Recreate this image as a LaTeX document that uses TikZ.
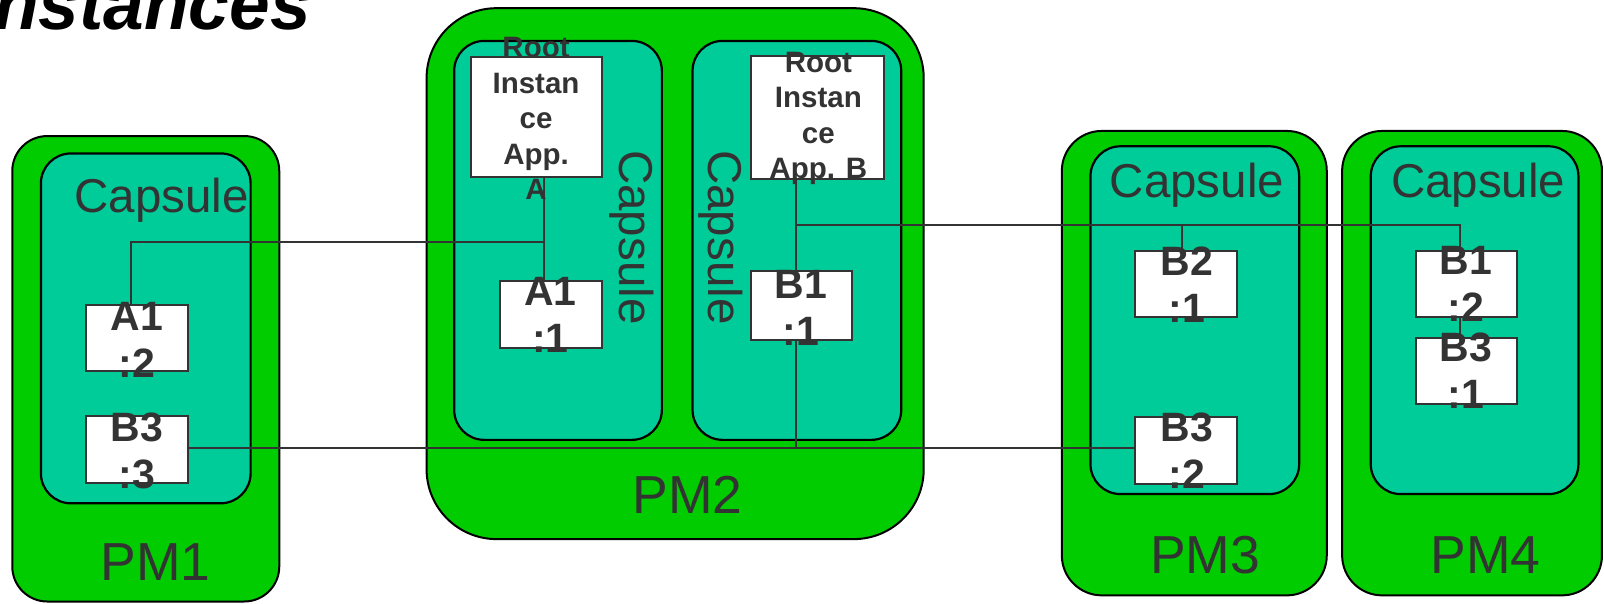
\documentclass[tikz,border=0pt]{standalone}
\usepackage{fontspec}
\setmainfont{Liberation Sans}
\usetikzlibrary{fit}
\definecolor{pmgreen}{RGB}{0,204,0}
\definecolor{capgreen}{RGB}{0,204,153}
\definecolor{ink}{RGB}{51,51,51}
\tikzset{
  pm/.style={draw=black, line width=2pt, fill=pmgreen, inner sep=0pt},
  capsule/.style={draw=black, line width=2.2pt, fill=capgreen, inner sep=0pt, rounded corners=30pt},
  inst/.style={draw=ink, line width=2pt, fill=white, inner sep=0pt},
  insttxt/.style={text=ink, align=center, inner sep=0pt, font=\bfseries\fontsize{41}{47}\selectfont},
  roottxt/.style={text=ink, align=center, inner sep=0pt, font=\bfseries\fontsize{29.5}{35.5}\selectfont},
  captxt/.style={text=ink, inner sep=0pt, font=\fontsize{47.5}{50}\selectfont},
  pmtxt/.style={text=ink, inner sep=0pt, font=\fontsize{53.5}{56}\selectfont},
  conn/.style={draw=ink, line width=2pt}
}
\begin{document}
\begin{tikzpicture}[x=1.02296pt,y=-1.02296pt]
\useasboundingbox (0,0) rectangle (1568,590.4);
\clip (0,0) rectangle (1568,590.4);
% title
\node[anchor=base east, inner sep=0pt, font=\bfseries\itshape\fontsize{73}{80}\selectfont] (title) at (304,29) {Instances};
% PM containers
\node[pm, rounded corners=35pt, fit={(12,133) (273,588)}] (pm1) {};
\node[pm, rounded corners=70pt, fit={(417,8) (903,527)}] (pm2) {};
\node[pm, rounded corners=40pt, fit={(1038,128) (1297,582)}] (pm3) {};
\node[pm, rounded corners=40pt, fit={(1312,128) (1566,582)}] (pm4) {};
% capsules
\node[capsule, fit={(40,150) (245,492)}] (cap1) {};
\node[capsule, fit={(444,40) (647,430)}] (cap2a) {};
\node[capsule, fit={(677,40) (881,430)}] (cap2b) {};
\node[capsule, fit={(1066,143) (1270,483)}] (cap3) {};
\node[capsule, fit={(1340,143) (1543,483)}] (cap4) {};
% labels of containers
\node[captxt] (cap1t) at (158,196) {Capsule};
\node[captxt, rotate=-90] (cap2at) at (618,232) {Capsule};
\node[captxt, rotate=-90] (cap2bt) at (705,232) {Capsule};
\node[captxt] (cap3t) at (1170,181) {Capsule};
\node[captxt] (cap4t) at (1445,181) {Capsule};
\node[pmtxt] (pm1t) at (152,549) {PM1};
\node[pmtxt] (pm2t) at (672,484) {PM2};
\node[pmtxt] (pm3t) at (1178,543) {PM3};
\node[pmtxt] (pm4t) at (1452,543) {PM4};
% connector junctions
\coordinate (ja) at (532,237);
\coordinate (ka) at (128,237);
\coordinate (jb) at (778,220);
\coordinate (jb3) at (1155,220);
\coordinate (jb4) at (1427,220);
\coordinate (jl) at (778,438);
% instance boxes
\node[inst, fit={(84,298) (184,363)}] (a12) {};
\node[inst, fit={(84,407) (184,472)}] (b33) {};
\node[inst, fit={(460,56) (588,173)}] (ra) {};
\node[inst, fit={(489,275) (588,340)}] (a11) {};
\node[inst, fit={(734,55) (864,175)}] (rb) {};
\node[inst, fit={(734,265) (833,332)}] (b11) {};
\node[inst, fit={(1110,245) (1209,310)}] (b21) {};
\node[inst, fit={(1110,408) (1209,473)}] (b32) {};
\node[inst, fit={(1384,245) (1483,310)}] (b12) {};
\node[inst, fit={(1384,330) (1483,395)}] (b31) {};
% connectors
\draw[conn] (ra.south -| ja) -- (a11.north -| ja);
\draw[conn] (a12.north -| ka) -- (ka) -- (ja);
\draw[conn] (rb.south -| jb) -- (b11.north -| jb);
\draw[conn] (jb) -- (jb4) -- (b12.north -| jb4);
\draw[conn] (jb3) -- (b21.north -| jb3);
\draw[conn] (b12.south -| jb4) -- (b31.north -| jb4);
\draw[conn] (b33.east |- jl) -- (b32.west |- jl);
\draw[conn] (b11.south -| jl) -- (jl);
% instance texts
\node[insttxt] (a12t) at (134,332) {A1\\:2};
\node[insttxt] (b33t) at (134,441) {B3\\:3};
\node[insttxt] (a11t) at (538,308) {A1\\:1};
\node[insttxt] (b11t) at (783,301) {B1\\:1};
\node[insttxt] (b21t) at (1160,278) {B2\\:1};
\node[insttxt] (b32t) at (1160,441) {B3\\:2};
\node[insttxt] (b12t) at (1433,278) {B1\\:2};
\node[insttxt] (b31t) at (1433,362) {B3\\:1};
\node[roottxt] (rat) at (524,116) {Root\\Instan\\ce\\App.\\A};
\node[roottxt] (rbt) at (800,116) {Root\\Instan\\ce\\App. B};
\end{tikzpicture}
\end{document}
